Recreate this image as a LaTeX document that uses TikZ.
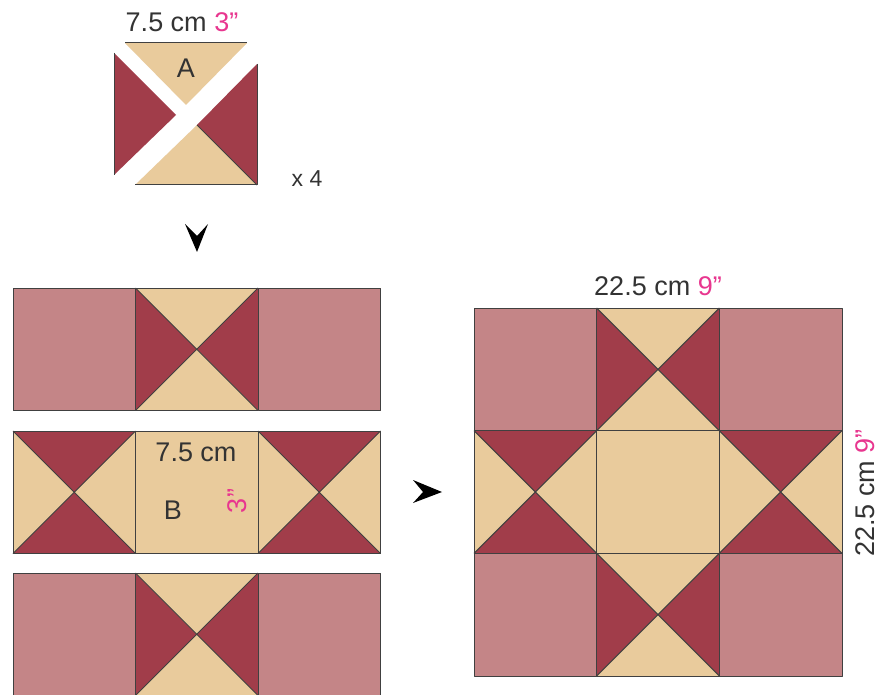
\documentclass[tikz,border=0pt]{standalone}
\usepackage{fontspec}
\setmainfont{Liberation Sans}
\definecolor{qred}{HTML}{A13D4A}
\definecolor{qtan}{HTML}{E9CB9C}
\definecolor{qpink}{HTML}{C48587}
\definecolor{qmag}{HTML}{E8368F}
\definecolor{qedge}{HTML}{404040}
\definecolor{qtext}{HTML}{333333}
\tikzset{
  edgeline/.style={draw=qedge, line width=1pt, line join=round},
  lbl/.style={inner sep=0pt, text=qtext, font=\fontsize{27}{30}\selectfont},
  smalllbl/.style={inner sep=0pt, text=qtext, font=\fontsize{23}{26}\selectfont},
  arrowfill/.style={fill=black},
}
% cell with tan top/bottom and red sides
\newcommand\qsTanTB[3]{%
  \begin{scope}[shift={(#1,#2)}]
    \fill[qred] (0,0) rectangle (#3,#3);
    \fill[qtan] (0,0) -- (#3,0) -- (#3/2,#3/2) -- cycle;
    \fill[qtan] (0,#3) -- (#3,#3) -- (#3/2,#3/2) -- cycle;
    \draw[edgeline] (0,0) rectangle (#3,#3);
    \draw[edgeline] (0,0) -- (#3,#3) (#3,0) -- (0,#3);
  \end{scope}}
% cell with red top/bottom and tan sides
\newcommand\qsRedTB[3]{%
  \begin{scope}[shift={(#1,#2)}]
    \fill[qtan] (0,0) rectangle (#3,#3);
    \fill[qred] (0,0) -- (#3,0) -- (#3/2,#3/2) -- cycle;
    \fill[qred] (0,#3) -- (#3,#3) -- (#3/2,#3/2) -- cycle;
    \draw[edgeline] (0,0) rectangle (#3,#3);
    \draw[edgeline] (0,0) -- (#3,#3) (#3,0) -- (0,#3);
  \end{scope}}
% plain cell
\newcommand\qsPlain[4]{%
  \begin{scope}[shift={(#1,#2)}]
    \fill[#4] (0,0) rectangle (#3,#3);
    \draw[edgeline] (0,0) rectangle (#3,#3);
  \end{scope}}
\begin{document}
\begin{tikzpicture}[x=1pt,y=-1pt]
\useasboundingbox (0,0) rectangle (881,695);
\fill[white] (0,0) rectangle (881,695);

% ---- top unit (pieces) ----
\fill[qtan] (125,43) -- (247,43) -- (186,105) -- cycle;
\fill[qred] (114,53) -- (114,175) -- (176,115) -- cycle;
\fill[qred] (257,64) -- (257,185) -- (197,125) -- cycle;
\fill[qtan] (135,185) -- (257,185) -- (197,125) -- cycle;
\draw[edgeline] (125,43) -- (247,43);
\draw[edgeline] (114,53) -- (114,175);
\draw[edgeline] (257,64) -- (257,185) -- (135,185);
\draw[edgeline] (257,185) -- (197,125);
\node[lbl] (lblA) at (186,68) {A};
\node[lbl] (topdim) at (182,22) {7.5 cm \textcolor{qmag}{3”}};
\node[smalllbl] (times) at (307,179) {x 4};

% ---- arrows ----
\fill[arrowfill] (185,224) -- (197,236) -- (208,224) -- (197,252) -- cycle;
\fill[arrowfill] (413,480) -- (442,492) -- (413,503) -- (423,492) -- cycle;

% ---- left rows ----
\def\s{122.5}
\qsPlain{13}{288}{\s}{qpink}
\qsTanTB{135.5}{288}{\s}
\qsPlain{258}{288}{\s}{qpink}

\qsRedTB{13}{431}{\s}
\qsPlain{135.5}{431}{\s}{qtan}
\qsRedTB{258}{431}{\s}

\qsPlain{13}{573}{\s}{qpink}
\qsTanTB{135.5}{573}{\s}
\qsPlain{258}{573}{\s}{qpink}

\node[lbl] (bdim) at (196,452) {7.5 cm};
\node[lbl] (lblB) at (173,510) {B};
\node[lbl, rotate=90, text=qmag] (bin) at (237,501) {3”};

% ---- big block ----
\def\t{122.67}
\qsPlain{474}{308}{\t}{qpink}
\qsTanTB{596.67}{308}{\t}
\qsPlain{719.33}{308}{\t}{qpink}

\qsRedTB{474}{430.67}{\t}
\qsPlain{596.67}{430.67}{\t}{qtan}
\qsRedTB{719.33}{430.67}{\t}

\qsPlain{474}{553.33}{\t}{qpink}
\qsTanTB{596.67}{553.33}{\t}
\qsPlain{719.33}{553.33}{\t}{qpink}

\node[lbl] (bigtop) at (658,286) {22.5 cm \textcolor{qmag}{9”}};
\node[lbl, rotate=90] (bigside) at (865,493) {22.5 cm \textcolor{qmag}{9”}};
\end{tikzpicture}
\end{document}
